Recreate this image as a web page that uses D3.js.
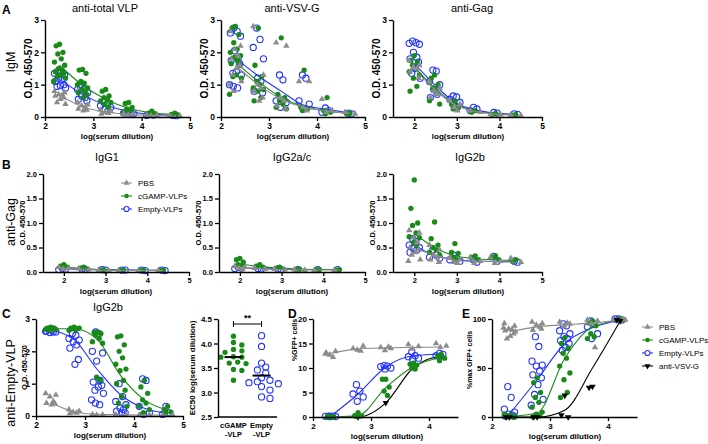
<!DOCTYPE html>
<html><head><meta charset="utf-8">
<script src="https://cdn.jsdelivr.net/npm/d3@7"></script>
<style>
body{margin:0;background:#fff}
svg{display:block}
text{font-family:"Liberation Sans",Arial,Helvetica,sans-serif}
</style>
</head><body>
<script>
// ---------------- DATA ----------------
const groups = ["PBS", "cGAMP-VLPs", "Empty-VLPs", "anti-VSV-G"];
const xTotal = [2.301, 2.778, 3.255, 3.732, 4.21, 4.687];   // log dilutions (1:200, 3-fold)
const xGag = [2.0, 2.477, 2.954, 3.431, 3.908, 4.386];      // log dilutions (1:100, 3-fold)
const xNeut = [2.301, 2.778, 3.255, 3.732, 4.21];

// A1 anti-total VLP IgM
const a1Pbs = [[0.8,0.75,0.7,0.68,0.65,0.6,0.55,0.45,0.4],[0.45,0.38,0.35,0.3,0.25,0.22,0.2],[0.22,0.18,0.15,0.12,0.1],[0.1,0.08,0.06],[0.06,0.05,0.04],[0.04,0.03]];
const a1Cgamp = [[2.25,2.2,2.0,1.95,1.8,1.7,1.6,1.5,1.45,1.4,1.35,1.3,1.25,1.2,1.1],[1.47,1.45,1.35,1.1,1.05,1.0,0.9,0.85,0.8,0.75,0.7,0.6],[0.85,0.8,0.65,0.6,0.55,0.5,0.45,0.4,0.3],[0.45,0.42,0.3,0.25,0.2,0.15],[0.18,0.12,0.1,0.08],[0.12,0.08,0.06]];
const a1Empty = [[1.42,1.4,1.35,1.3,1.2,1.15,1.1,1.0,0.97,0.95,0.9],[0.9,0.88,0.85,0.75,0.65,0.6,0.55,0.5],[0.45,0.4,0.35,0.3,0.25,0.2],[0.18,0.15,0.12,0.1],[0.08,0.06,0.05],[0.05,0.04]];
const a1PbsFit = [0.67,0.32,0.16,0.08,0.05,0.035];
const a1CgampFit = [1.6,0.98,0.55,0.27,0.13,0.08];
const a1EmptyFit = [1.17,0.7,0.37,0.17,0.08,0.05];

// A2 anti-VSV-G IgM
const a2Pbs = [[2.65,2.2,2.1,1.9,1.8,1.6,1.5,1.3,1.1,1.0,0.8],[2.8,1.3,1.0,0.9,0.8,0.6,0.5],[2.3,2.2,0.6,0.5,0.35,0.25],[1.1,1.1,0.3,0.2],[0.55,0.2,0.15],[0.15,0.1]];
const a2Cgamp = [[2.8,2.75,2.55,2.3,2.1,2.0,1.9,1.85,1.75,1.65,1.6,1.3,1.25,1.2,0.7],[2.75,1.6,1.25,1.1,1.0,0.9,0.85,0.8,0.6,0.5],[2.45,0.7,0.6,0.5,0.4,0.3,0.25],[1.45,0.3,0.25,0.2],[0.6,0.2,0.15,0.1],[0.12,0.1]];
const a2Empty = [[2.75,2.65,2.6,2.5,2.05,1.8,1.75,1.65,1.4,1.35,1.3,1.0,0.95,0.9],[2.75,2.4,2.15,1.8,1.2,1.1,0.8,0.75],[1.3,1.15,0.5,0.45,0.3],[1.3,1.2,0.5,0.4,0.25],[0.28,0.2,0.15],[0.12,0.1]];
const a2PbsFit = [1.6,1.0,0.55,0.3,0.18,0.12];
const a2CgampFit = [1.7,1.1,0.6,0.32,0.18,0.12];
const a2EmptyFit = [1.82,1.27,0.8,0.36,0.24,0.12];

// A3 anti-Gag IgM
const a3Pbs = [[1.75,1.6,1.55,1.5,1.4,1.2],[1.1,0.9,0.8,0.7,0.6],[0.5,0.4,0.3,0.2],[0.2,0.15],[0.08,0.07],[0.06,0.05]];
const a3Cgamp = [[1.9,1.75,1.7,1.6,1.5,1.4,1.3,1.2,0.95,0.8],[1.3,1.2,1.0,0.9,0.8,0.5,0.4],[0.5,0.4,0.3,0.25],[0.2,0.15],[0.1,0.08],[0.07,0.06]];
const a3Empty = [[2.35,2.3,2.28,2.25,2.0,1.85,1.8,1.7,1.5,1.35,1.2],[1.45,1.42,1.1,1.0,0.85,0.7,0.6],[0.65,0.62,0.55,0.45,0.35,0.3],[0.3,0.25,0.2],[0.14,0.12],[0.1,0.08]];
const a3PbsFit = [1.5,0.85,0.38,0.17,0.09,0.06];
const a3CgampFit = [1.55,0.9,0.4,0.18,0.1,0.07];
const a3EmptyFit = [1.65,1.0,0.45,0.22,0.12,0.08];

// B1 anti-Gag IgG1
const b1Pbs = [[0.1,0.08,0.06],[0.07,0.05],[0.04,0.03],[0.03],[0.03],[0.03]];
const b1Cgamp = [[0.15,0.12,0.1,0.08],[0.1,0.08,0.06],[0.05,0.04],[0.04,0.03],[0.04,0.03],[0.04,0.03]];
const b1Empty = [[0.08,0.06,0.05],[0.06,0.05],[0.05,0.04],[0.04,0.04],[0.04,0.03],[0.04,0.03]];
const b1PbsFit = [0.08,0.06,0.035,0.03,0.03,0.03];
const b1CgampFit = [0.1,0.07,0.045,0.035,0.035,0.035];
const b1EmptyFit = [0.06,0.05,0.045,0.04,0.035,0.035];

// B2 anti-Gag IgG2a/c
const b2Pbs = [[0.12,0.1,0.08,0.06],[0.08,0.06],[0.06,0.05],[0.05,0.04],[0.04],[0.04]];
const b2Cgamp = [[0.28,0.25,0.2,0.15,0.12],[0.15,0.12,0.1],[0.1,0.08],[0.06,0.05],[0.05,0.05],[0.05,0.04]];
const b2Empty = [[0.1,0.08,0.07],[0.07,0.06],[0.06,0.05],[0.05],[0.05],[0.05]];
const b2PbsFit = [0.09,0.07,0.05,0.045,0.04,0.04];
const b2CgampFit = [0.17,0.11,0.08,0.06,0.05,0.05];
const b2EmptyFit = [0.09,0.07,0.06,0.05,0.05,0.05];

// B3 anti-Gag IgG2b
const b3Pbs = [[0.85,0.8,0.7,0.6,0.5,0.45,0.4,0.35,0.25,0.22],[0.55,0.45,0.35,0.3,0.25,0.2],[0.3,0.25,0.2,0.18],[0.3,0.22,0.18],[0.3,0.22,0.18],[0.28,0.2]];
const b3Cgamp = [[1.88,1.3,1.0,0.95,0.8,0.72,0.7,0.6,0.55],[1.02,0.68,0.55,0.5,0.45,0.4,0.35],[0.58,0.4,0.38,0.3,0.25],[0.33,0.3,0.25],[0.33,0.3,0.25],[0.25,0.22]];
const b3Empty = [[0.68,0.62,0.55,0.5,0.48,0.45,0.4],[0.45,0.35,0.3,0.28],[0.35,0.28,0.25,0.22],[0.25,0.2],[0.32,0.22],[0.22,0.2]];
const b3PbsFit = [0.48,0.35,0.24,0.22,0.21,0.2];
const b3CgampFit = [0.78,0.5,0.33,0.27,0.25,0.23];
const b3EmptyFit = [0.55,0.33,0.26,0.22,0.22,0.2];

// C1 anti-Empty-VLP IgG2b
const c1Pbs = [[0.7,0.65,0.6,0.45,0.4,0.38,0.35],[0.2,0.15,0.12,0.1,0.08],[0.05,0.04,0.03],[0.04,0.03],[0.03,0.03],[0.03,0.03]];
const c1Cgamp = [[2.75,2.72,2.72,2.7,2.7,2.68,2.68,2.65,2.72,2.7],[2.75,2.72,2.7,2.7,2.68,2.65,2.72],[2.6,2.58,2.55,2.5,2.4,2.3,2.25,1.2,1.1],[2.48,2.45,2.2,2.0,1.8,1.6,1.45,1.4,1.1,1.0,0.8,0.6,0.4,0.3],[1.1,0.9,0.7,0.5,0.4,0.3,0.2,0.1],[0.3,0.2,0.12,0.1]];
const c1Empty = [[2.68,2.65,2.62,2.6,2.58,2.6,2.63],[2.55,2.5,2.4,2.35,2.3,2.2,2.1,1.75,1.6],[2.6,2.55,2.0,1.95,1.7,1.1,1.05,0.95,0.9,0.8,0.7,0.5,0.4,0.35],[1.0,0.6,0.45,0.35,0.25,0.2,0.15,0.1,0.1],[1.15,1.1,0.3,0.1,0.05],[0.3,0.1,0.05]];
const c1PbsFit = [0.42,0.13,0.05,0.04,0.03,0.03];
const c1CgampFit = [2.7,2.7,2.36,1.24,0.5,0.18];
const c1EmptyFit = [2.65,2.36,1.43,0.65,0.24,0.08];

// C2 EC50
const ec50Categories = ["cGAMP\n-VLP", "Empty\n-VLP"];
const ec50Cgamp = [4.15,4.02,3.97,3.88,3.85,3.82,3.73,3.72,3.72,3.62,3.6,3.59,3.47,3.45,3.25];
const ec50Empty = [4.16,3.94,3.6,3.52,3.46,3.4,3.3,3.25,3.22,3.2,3.18,3.12,3.05,2.91,2.88];

// D %GFP+ cells
const dPbs = [[12.9,13.4,12.7,12.2,13.1],[14.0,14.5,13.7,13.5],[14.2,14.0,13.6,14.3],[14.8,14.4,13.9],[15.0,14.5,14.2]];
const dCgamp = [[0.05,0,0,0.1,0],[0.9,0.3,0.2,0.1],[7.7,7.7,6.1,5.3,4.4],[11.0,10.8,10.6,10.0,9.8],[12.8,12.4,12.0,11.5]];
const dEmpty = [[0.2,0.2,0.15,0.1,0.1],[6.6,5.3,4.7,4.1,3.2],[10.5,10.4,10.3,10.0,9.8],[13.3,12.5,12.3,12.0,11.8],[13.0,12.8,12.5]];
const dVsv = [[0],[0],[2.9],[10.1],[12.5]];
const dPbsFit = [13.0,13.9,14.1,14.2,14.3];
const dCgampFit = [0,0.3,6.0,10.3,12.2];
const dEmptyFit = [0.15,4.7,10.2,12.5,12.8];
const dVsvFit = [0,0,2.9,10.1,12.5];

// E %max GFP+ cells
const ePbs = [[95.6,93,90,89.5,88,85,82.6,80,87,91],[97,95.5,94,92,88.7,90],[97,95,93,96],[99,98,95,71],[100,99,98,100]];
const eCgamp = [[1,0.5,0,0,2,3,0,1],[40,35,25,20,15,10,5,3,1,0],[81,75,70,65,60,52,45,38,25,20],[98,96,93,85,82,80],[100,99,99]];
const eEmpty = [[31,20,8,5,3,2,1,1],[82,72,57,53,52,47,43,40,33,23,18,12],[95,93,88,85,82,80,78,75,71,68],[98,95,92,85,80],[100,99,100]];
const eVsv = [[0,0],[0,0],[22,2,0],[31,30],[98,99]];
const ePbsFit = [87,92,94,96,99];
const eCgampFit = [0.5,4,60,92,99];
const eEmptyFit = [3,38,75,91,99];
const eVsvFit = [0,0,7,50,98];

// ---------------- STYLE / LAYOUT ----------------
const COL = {pbs:"#8c8c8c", cgamp:"#188a18", empty:"#2233ff", vsv:"#000"};
const JIT = [0,-4,4,-2,2,-6,6,-1,3,-5,5,1,-3,7,-7,-2.5,2.5];
const SZ = {pbs:18, cgamp:22, empty:30, vsv:18};

const svg = d3.select("body").append("svg").attr("width",708).attr("height",444);
svg.append("rect").attr("width",708).attr("height",444).attr("fill","#fff");

function txt(x,y,s,size,opts={}) {
  const t = svg.append("text").attr("x",x).attr("y",y).attr("font-size",size).text(s)
    .attr("text-anchor", opts.anchor||"middle").attr("font-weight", opts.bold?"bold":"normal").attr("fill","#000");
  if (opts.rot) t.attr("transform",`rotate(-90,${x},${y})`);
  return t;
}

function styleAxis(g,fs){
  g.select(".domain").attr("stroke","#000").attr("stroke-width",1.4);
  g.selectAll(".tick line").attr("stroke","#000").attr("stroke-width",1.3);
  g.selectAll(".tick text").attr("font-size",fs||8).attr("font-weight","bold")
    .attr("font-family",'"Liberation Sans",Arial,sans-serif').attr("fill","#000");
}

function sym(type,size){ return d3.symbol().type(type).size(size)(); }

function drawGroup(g,x,y,xs,pts,fit,kind,phase){
  const col = COL[kind];
  const pdata = [];
  pts.forEach((col_,ci)=>col_.forEach((v,i)=>pdata.push({cx:x(xs[ci])+JIT[(i+phase)%JIT.length]*0.85, cy:y(v)})));
  const sel = g.append("g").selectAll("path").data(pdata).join("path")
    .attr("transform",d=>`translate(${d.cx},${d.cy})` + (kind==="vsv"?" rotate(180)":""));
  if (kind==="pbs"||kind==="vsv") sel.attr("d",sym(d3.symbolTriangle,SZ[kind])).attr("fill",col);
  else if (kind==="cgamp") sel.attr("d",sym(d3.symbolCircle,SZ.cgamp)).attr("fill",col);
  else sel.attr("d",sym(d3.symbolCircle,SZ.empty)).attr("fill","none").attr("stroke",col).attr("stroke-width",1.1);
  const line = d3.line().x((d,i)=>x(xs[i])).y(d=>y(d)).curve(d3.curveMonotoneX);
  g.append("path").attr("d",line(fit)).attr("fill","none").attr("stroke",col).attr("stroke-width",1.1);
}

function panel(cfg){
  const x = d3.scaleLinear().domain(cfg.xd).range([cfg.x0,cfg.x1]);
  const y = d3.scaleLinear().domain(cfg.yd).range([cfg.y0,cfg.y1]);
  const g = svg.append("g");
  (cfg.series||[]).forEach(s=>drawGroup(g,x,y,cfg.xs,s.pts,s.fit,s.kind,s.phase||0));
  const xa = svg.append("g").attr("transform",`translate(0,${cfg.y0})`)
    .call(d3.axisBottom(x).tickValues(cfg.xt).tickFormat(d3.format("d")).tickSize(4).tickSizeOuter(0).tickPadding(2));
  styleAxis(xa,cfg.tf);
  const ya = svg.append("g").attr("transform",`translate(${cfg.x0},0)`)
    .call(d3.axisLeft(y).tickValues(cfg.yt).tickFormat(d3.format(cfg.yf)).tickSize(4).tickSizeOuter(0).tickPadding(2));
  styleAxis(ya,cfg.tf);
  if (cfg.title) txt(cfg.tx, cfg.ty, cfg.title, 11);
  txt(cfg.ylx, (cfg.y0+cfg.y1)/2 + (cfg.yloff||0), cfg.ylabel, cfg.ylf||8, {bold:true, rot:true});
  txt(cfg.xlx || (cfg.x0+cfg.x1)/2, cfg.y0+22, "log(serum dilution)", 8, {bold:true});
  return {x,y};
}

const mk = (pbs,pf,cg,cf,em,ef)=>[
  {pts:em,fit:ef,kind:"empty",phase:3},
  {pts:cg,fit:cf,kind:"cgamp",phase:0},
  {pts:pbs,fit:pf,kind:"pbs",phase:5}];

const OD = "O.D. 450-570";
// Row A
panel({x0:45,x1:190,y0:117,y1:20,xd:[2,5],yd:[0,3],xt:[2,3,4,5],yt:[0,1,2,3],yf:"d",xs:xTotal,tf:8.5,
  title:"anti-total VLP",tx:105,ty:12,ylabel:OD,ylx:32,ylf:10,xlx:117,
  series:mk(a1Pbs,a1PbsFit,a1Cgamp,a1CgampFit,a1Empty,a1EmptyFit)});
panel({x0:221,x1:365,y0:117,y1:20,xd:[2,5],yd:[0,3],xt:[2,3,4,5],yt:[0,1,2,3],yf:"d",xs:xTotal,tf:8.5,
  title:"anti-VSV-G",tx:292,ty:12,ylabel:OD,ylx:208,ylf:10,xlx:293,
  series:mk(a2Pbs,a2PbsFit,a2Cgamp,a2CgampFit,a2Empty,a2EmptyFit)});
panel({x0:393,x1:542,y0:117,y1:20,xd:[1.5,5],yd:[0,3],xt:[2,3,4,5],yt:[0,1,2,3],yf:"d",xs:xGag,tf:8.5,
  title:"anti-Gag",tx:472,ty:12,ylabel:OD,ylx:380,ylf:10,xlx:468,
  series:mk(a3Pbs,a3PbsFit,a3Cgamp,a3CgampFit,a3Empty,a3EmptyFit)});
// Row B
panel({x0:43,x1:189,y0:272,y1:174,xd:[1.5,5],yd:[0,2],xt:[2,3,4,5],yt:[0,0.5,1,1.5,2],yf:".1f",xs:xGag,tf:7.5,
  title:"IgG1",tx:107,ty:161,ylabel:OD,ylx:25,ylf:7.5,xlx:116,
  series:mk(b1Pbs,b1PbsFit,b1Cgamp,b1CgampFit,b1Empty,b1EmptyFit)});
panel({x0:219,x1:365,y0:272,y1:174,xd:[1.5,5],yd:[0,2],xt:[2,3,4,5],yt:[0,0.5,1,1.5,2],yf:".1f",xs:xGag,tf:7.5,
  title:"IgG2a/c",tx:292,ty:161,ylabel:OD,ylx:201,ylf:7.5,xlx:292,
  series:mk(b2Pbs,b2PbsFit,b2Cgamp,b2CgampFit,b2Empty,b2EmptyFit)});
panel({x0:393,x1:542,y0:272,y1:174,xd:[1.5,5],yd:[0,2],xt:[2,3,4,5],yt:[0,0.5,1,1.5,2],yf:".1f",xs:xGag,tf:7.5,
  title:"IgG2b",tx:470,ty:161,ylabel:OD,ylx:375,ylf:7.5,xlx:468,
  series:mk(b3Pbs,b3PbsFit,b3Cgamp,b3CgampFit,b3Empty,b3EmptyFit)});
// Row C
panel({x0:36,x1:183,y0:416,y1:319,xd:[2,5],yd:[0,3],xt:[2,3,4,5],yt:[0,1,2,3],yf:"d",xs:xTotal,tf:8.5,
  title:"IgG2b",tx:108,ty:311,ylabel:OD,ylx:27,ylf:7.5,xlx:110,
  series:mk(c1Pbs,c1PbsFit,c1Cgamp,c1CgampFit,c1Empty,c1EmptyFit)});

// D
panel({x0:313,x1:458,y0:417,y1:319,xd:[2,4.5],yd:[0,20],xt:[2,3,4],yt:[0,5,10,15,20],yf:"d",xs:xNeut,tf:8,
  ylabel:"%GFP+ cells",ylx:297,ylf:7,yloff:-28,xlx:387,
  series:[{pts:dVsv,fit:dVsvFit,kind:"vsv",phase:0}, ...mk(dPbs,dPbsFit,dCgamp,dCgampFit,dEmpty,dEmptyFit)]});
// E
panel({x0:492,x1:637,y0:417,y1:319,xd:[2,4.5],yd:[0,100],xt:[2,3,4],yt:[0,50,100],yf:"d",xs:xNeut,tf:8,
  ylabel:"%max GFP+ cells",ylx:472,ylf:7,yloff:-8,xlx:565,
  series:[...mk(ePbs,ePbsFit,eCgamp,eCgampFit,eEmpty,eEmptyFit),{pts:eVsv,fit:eVsvFit,kind:"vsv",phase:0}]});

// C2 EC50 scatter
(function(){
  const y = d3.scaleLinear().domain([2.5,4.5]).range([417,319]);
  const x = d3.scaleBand().domain(ec50Categories).range([218,277]).padding(0.1);
  const g = svg.append("g");
  const swarm = (vals)=>{
    const placed=[]; const r=2.8;
    vals.slice().sort((a,b)=>b-a).forEach(v=>{
      const cy=y(v);
      for (let k=0;k<20;k++){
        const off = (k===0?0:(k%2?1:-1)*Math.ceil(k/2)*r*1.5);
        if (placed.every(p=>Math.hypot(p.dx-off,p.cy-cy)>=2*r)) { placed.push({dx:off,cy,v}); break; }
      }
    });
    return placed;
  };
  [[ec50Cgamp,0,"cgamp"],[ec50Empty,1,"empty"]].forEach(([vals,i,kind])=>{
    const cx = x(ec50Categories[i]) + x.bandwidth()/2;
    const pts = swarm(vals);
    const sel = g.selectAll(null).data(pts).join("path").attr("transform",d=>`translate(${cx+d.dx},${d.cy})`);
    if (kind==="cgamp") sel.attr("d",sym(d3.symbolCircle,SZ.cgamp)).attr("fill",COL.cgamp);
    else sel.attr("d",sym(d3.symbolCircle,SZ.empty)).attr("fill","none").attr("stroke",COL.empty).attr("stroke-width",1.1);
    const m = d3.mean(vals);
    g.append("line").attr("x1",cx-9).attr("x2",cx+9).attr("y1",y(m)).attr("y2",y(m)).attr("stroke","#000").attr("stroke-width",2);
  });
  const ya = svg.append("g").attr("transform","translate(218,0)")
    .call(d3.axisLeft(y).tickValues([2.5,3,3.5,4,4.5]).tickFormat(d3.format(".1f")).tickSize(4).tickSizeOuter(0).tickPadding(2));
  styleAxis(ya,8);
  svg.append("line").attr("x1",218).attr("x2",277).attr("y1",417).attr("y2",417).attr("stroke","#000").attr("stroke-width",1.4);
  ec50Categories.forEach((c,i)=>{
    const cx = x(c)+x.bandwidth()/2;
    c.split("\n").forEach((s,j)=>txt(cx,428+j*9,s,7.5,{bold:true}));
  });
  const c0 = x(ec50Categories[0])+x.bandwidth()/2, c1 = x(ec50Categories[1])+x.bandwidth()/2;
  g.append("path").attr("d",`M${c0},321V327M${c0},324H${c1}M${c1},321V327`).attr("stroke","#000").attr("stroke-width",1).attr("fill","none");
  txt((c0+c1)/2,321,"**",9,{bold:true});
  txt(195,368,"EC50 log(serum dilution)",8,{bold:true,rot:true});
})();

// Row labels & panel letters
txt(15,62,"IgM",12.5,{rot:true});
txt(15,222,"anti-Gag",12.5,{rot:true});
txt(15,383,"anti-Empty-VLP",12.5,{rot:true});
txt(2,14,"A",12,{bold:true,anchor:"start"});
txt(2,169,"B",12,{bold:true,anchor:"start"});
txt(2,318,"C",12,{bold:true,anchor:"start"});
txt(288,318,"D",12,{bold:true,anchor:"start"});
txt(462,318,"E",12,{bold:true,anchor:"start"});

// Legends
function legend(x0,y0,items){
  items.forEach((it,i)=>{
    const yy = y0+i*13;
    svg.append("line").attr("x1",x0).attr("x2",x0+11).attr("y1",yy).attr("y2",yy).attr("stroke",COL[it.kind]).attr("stroke-width",1.1);
    const p = svg.append("path").attr("transform",`translate(${x0+5.5},${yy})`+(it.kind==="vsv"?" rotate(180)":""));
    if (it.kind==="pbs"||it.kind==="vsv") p.attr("d",sym(d3.symbolTriangle,16)).attr("fill",COL[it.kind]);
    else if (it.kind==="cgamp") p.attr("d",sym(d3.symbolCircle,16)).attr("fill",COL.cgamp);
    else p.attr("d",sym(d3.symbolCircle,20)).attr("fill","#fff").attr("stroke",COL.empty).attr("stroke-width",1.1);
    txt(x0+17,yy+3,it.label,8,{anchor:"start"});
  });
}
legend(121,183,[{kind:"pbs",label:groups[0]},{kind:"cgamp",label:groups[1]},{kind:"empty",label:groups[2]}]);
legend(642,327,[{kind:"pbs",label:groups[0]},{kind:"cgamp",label:groups[1]},{kind:"empty",label:groups[2]},{kind:"vsv",label:groups[3]}]);
</script>
</body></html>
